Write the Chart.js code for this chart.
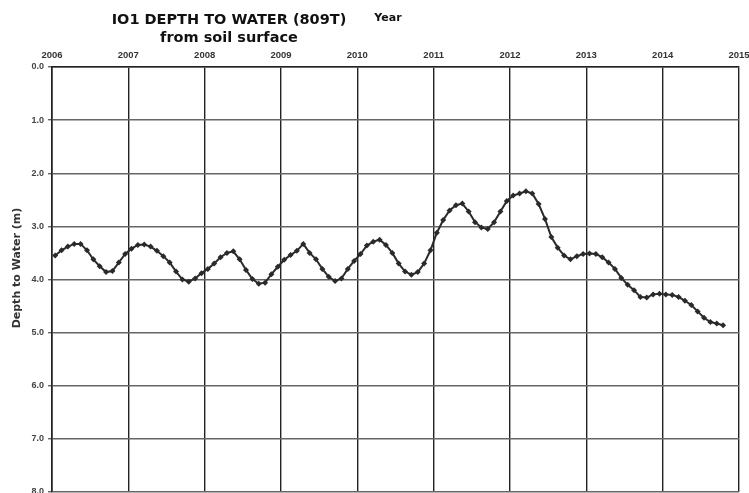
<!DOCTYPE html>
<html>
<head>
<meta charset="utf-8">
<script src="https://cdn.jsdelivr.net/npm/chart.js@4.4.1/dist/chart.umd.min.js"></script>
<style>
  html, body { margin: 0; padding: 0; background: #fff; overflow: hidden; }
  canvas { display: block; }
</style>
</head>
<body>
<canvas id="c" width="749" height="500"></canvas>
<script>
// monthly readings (depth in metres below soil surface)
var years = [2006, 2007, 2008, 2009, 2010, 2011, 2012, 2013, 2014];
var depth2006 = [3.55, 3.45, 3.38, 3.33, 3.33, 3.45, 3.62, 3.75, 3.86, 3.84, 3.68, 3.52];
var depth2007 = [3.42, 3.35, 3.34, 3.38, 3.46, 3.56, 3.68, 3.85, 4.00, 4.04, 3.98, 3.88];
var depth2008 = [3.80, 3.70, 3.58, 3.50, 3.47, 3.62, 3.82, 3.99, 4.08, 4.06, 3.90, 3.76];
var depth2009 = [3.63, 3.54, 3.46, 3.33, 3.50, 3.62, 3.80, 3.95, 4.03, 3.98, 3.80, 3.65];
var depth2010 = [3.52, 3.36, 3.29, 3.25, 3.35, 3.50, 3.70, 3.85, 3.91, 3.86, 3.70, 3.45];
var depth2011 = [3.12, 2.88, 2.70, 2.60, 2.57, 2.72, 2.92, 3.02, 3.05, 2.92, 2.72, 2.52];
var depth2012 = [2.42, 2.38, 2.34, 2.38, 2.58, 2.86, 3.20, 3.40, 3.55, 3.62, 3.56, 3.52];
var depth2013 = [3.51, 3.52, 3.58, 3.68, 3.80, 3.97, 4.10, 4.20, 4.33, 4.34, 4.28, 4.27];
var depth2014 = [4.28, 4.29, 4.33, 4.40, 4.48, 4.60, 4.72, 4.80, 4.83, 4.86];
var yearTicks = [2006, 2007, 2008, 2009, 2010, 2011, 2012, 2013, 2014, 2015];
var depthTicks = [0, 1, 2, 3, 4, 5, 6, 7, 8];

var allYears = [depth2006, depth2007, depth2008, depth2009, depth2010, depth2011, depth2012, depth2013, depth2014];
var points = [];
allYears.forEach(function(arr, i){
    arr.forEach(function(v, m){
        points.push({x: years[i] + (m + 0.5) / 12, y: v});
    });
});

// title text drawn at fixed spots like the scanned sheet
var labelsPlugin = {
    id: 'labels',
    afterDraw: function(chart){
        var c = chart.ctx;
        c.save();
        c.fillStyle = '#111';
        c.textAlign = 'center';
        c.textBaseline = 'middle';
        c.font = 'bold 14.5px "DejaVu Sans", Arial, sans-serif';
        c.fillText('IO1 DEPTH TO WATER (809T)', 229, 20);
        c.fillText('from soil surface', 229, 38);
        c.font = 'bold 11px "DejaVu Sans", Arial, sans-serif';
        c.fillText('Year', 388, 18);
        c.translate(17, 268);
        c.rotate(-Math.PI / 2);
        c.font = 'bold 11px "DejaVu Sans", Arial, sans-serif';
        c.fillStyle = '#333';
        c.fillText('Depth to Water (m)', 0, 0);
        c.restore();
    }
};

var ctx = document.getElementById('c').getContext('2d');
var chart = new Chart(ctx, {
    type: 'line',
    data: {
        datasets: [{
            label: 'Depth to water',
            data: points,
            borderColor: '#2a2a2a',
            backgroundColor: '#2a2a2a',
            borderWidth: 2,
            pointStyle: 'rectRot',
            pointRadius: 3,
            pointBorderWidth: 0,
            tension: 0
        }]
    },
    options: {
        responsive: false,
        animation: false,
        layout: { padding: { left: 0, right: 10, top: 0, bottom: 8 } },
        plugins: {
            legend: { display: false },
            tooltip: { enabled: false }
        },
        scales: {
            x: {
                type: 'linear',
                position: 'top',
                min: 2006,
                max: 2015,
                afterBuildTicks: function(s){ s.ticks = yearTicks.map(function(v){ return {value: v}; }); },
                afterFit: function(s){ s.height = 67; s.paddingLeft = 0; s.paddingRight = 0; },
                grid: { color: '#222', lineWidth: 1.4, drawTicks: false },
                border: { color: '#222', width: 1.4 },
                ticks: {
                    padding: 6,
                    maxRotation: 0,
                    color: '#333',
                    font: { family: '"Liberation Sans", Arial, sans-serif', size: 9.5, weight: 'bold' },
                    callback: function(v){ return String(v); }
                }
            },
            y: {
                reverse: true,
                min: 0,
                max: 8,
                afterBuildTicks: function(s){ s.ticks = depthTicks.map(function(v){ return {value: v}; }); },
                afterFit: function(s){ s.width = 52; s.paddingTop = 0; s.paddingBottom = 0; },
                grid: { color: '#666', lineWidth: 1.4, tickLength: 4 },
                border: { color: '#222', width: 1.6 },
                ticks: {
                    padding: 4,
                    color: '#444',
                    font: { family: '"Liberation Sans", Arial, sans-serif', size: 9, weight: 'bold' },
                    callback: function(v){ return v.toFixed(1); }
                }
            }
        }
    },
    plugins: [labelsPlugin]
});
</script>
</body>
</html>
